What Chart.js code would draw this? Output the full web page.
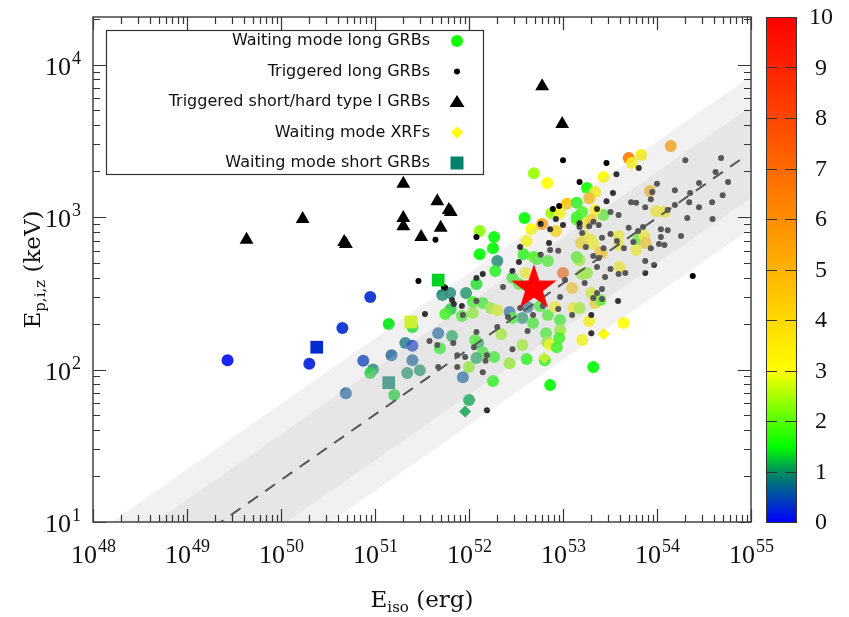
<!DOCTYPE html>
<html>
<head>
<meta charset="utf-8">
<script src="https://cdn.jsdelivr.net/npm/chart.js@4.4.1/dist/chart.umd.min.js"></script>
<style>
  html, body { margin: 0; background: #fff; }
  #c { display: block; }
</style>
</head>
<body>
<canvas id="c" width="849" height="617"></canvas>
<script>
// Eiso in erg, Ep,i,z in keV, z = redshift (colour scale)

// waiting mode long GRBs (coloured circles)
const wlE = [2.7e49, 2.0e50, 4.5e50, 8.9e50, 7.5e50, 4.9e50, 9.5e50, 8.9e50, 1.4e51, 1.6e51,
  1.5e51, 2.1e51, 2.5e51, 2.5e51, 3.0e51, 2.2e51, 2.5e51, 4.7e51, 6.6e51, 4.9e51,
  5.2e51, 6.3e51, 9.3e51, 6.4e51, 5.6e51, 8.4e51, 1.1e52, 1.4e52, 1.2e52, 1.7e52,
  2.0e52, 2.7e52, 3.7e52, 2.9e52, 4.8e52, 4.2e52, 6.9e52, 9.3e52, 5.7e52, 8.2e52,
  1.3e53, 1.5e53, 1.9e53, 1.6e53, 4.4e53, 2.2e53, 1.25e53, 2.2e52, 6.6e52, 9.3e52,
  1.25e52, 1.4e52, 1.16e52, 3.7e52, 6.8e52, 7.3e52, 8.6e52, 9.1e52, 1.2e52, 1.85e52,
  1.0e52, 8.6e51, 1.8e52, 2.7e52, 4.1e52, 6.4e52, 7.3e52, 1.0e52, 2.1e53, 2.0e52,
  5.3e52, 6.9e52, 1.9e52, 4.0e52, 1.0e53, 1.5e53, 1.8e53, 2.0e53, 2.9e52, 3.4e52,
  1.1e52, 3.9e52, 1.3e52, 1.85e52, 1.3e52, 4.9e52, 6.8e52, 1.8e53, 2.2e53, 1.9e53,
  1.1e53, 1.4e53, 7.5e52, 9.3e52, 1.6e53, 1.4e53, 6.0e52, 8.4e52, 4.6e52, 4.1e52,
  1.8e52, 3.8e52, 4.9e52, 2.7e53, 5.0e53, 6.8e53, 5.4e53, 1.4e54, 8.4e53, 2.7e53,
  2.2e53, 9.8e53, 1.2e54, 3.9e53, 6.3e53, 7.3e53, 3.9e53, 6.0e53, 7.6e53, 2.0e53,
  2.6e53, 1.7e53, 1.55e53, 2.1e53, 1.4e53, 2.5e53, 1.6e53, 4.0e53, 2.5e53, 1.8e53,
  2.0e53, 1.4e53];
const wlEp = [115, 109, 187, 299, 114, 70, 100, 95, 199, 68,
  124, 149, 143, 115, 99, 95, 190, 173, 166, 138,
  308, 317, 317, 249, 231, 224, 235, 273, 364, 253,
  245, 238, 218, 218, 202, 257, 228, 211, 261, 257,
  253, 253, 208, 156, 202, 273, 342, 171, 173, 181,
  149, 130, 156, 145, 151, 145, 140, 161, 119, 121,
  104, 89, 84, 110, 117, 115, 79, 63, 104, 515,
  530, 515, 442, 429, 429, 520, 429, 317, 398, 364,
  277, 985, 810, 740, 570, 1940, 1670, 1550, 1460, 1330,
  1220, 1240, 1060, 1060, 1080, 960, 900, 810, 830, 695,
  625, 570, 547, 1830, 2440, 2550, 2260, 2920, 1480, 1030,
  1110, 1090, 1080, 750, 710, 760, 655, 607, 675, 710,
  580, 750, 675, 665, 547, 590, 423, 470, 286, 910,
  960, 1000];
const wlZ = [0.1, 0.2, 0.3, 0.3, 0.4, 0.6, 0.9, 1.3, 1.4, 1.3,
  0.6, 0.8, 0.3, 0.6, 1.0, 1.0, 1.4, 0.6, 1.1, 1.5,
  0.9, 0.9, 1.0, 1.3, 1.7, 1.7, 2.2, 1.6, 1.4, 2.3,
  2.8, 0.6, 1.0, 1.6, 1.6, 0.7, 1.7, 1.6, 1.6, 3.0,
  3.1, 2.4, 3.1, 3.0, 3.0, 4.0, 4.5, 2.4, 1.7, 2.3,
  1.1, 1.6, 1.7, 2.4, 2.3, 3.0, 1.7, 1.7, 1.1, 1.6,
  2.2, 0.6, 1.6, 2.3, 1.6, 1.6, 1.5, 1.1, 1.5, 0.9,
  1.6, 1.7, 1.5, 3.0, 7.5, 2.4, 2.2, 2.8, 1.6, 1.7,
  1.7, 1.5, 2.3, 1.5, 1.5, 2.4, 3.0, 1.6, 3.2, 4.8,
  4.5, 1.6, 2.4, 3.0, 1.8, 1.8, 5.5, 4.0, 3.1, 3.0,
  1.5, 1.6, 1.8, 3.1, 6.5, 3.3, 3.1, 5.5, 5.0, 1.8,
  3.0, 3.3, 3.3, 3.0, 1.8, 3.0, 3.0, 3.0, 4.5, 3.2,
  4.0, 3.0, 4.0, 3.0, 1.8, 4.3, 2.3, 3.2, 1.9, 3.2,
  4.0, 1.7];

// triggered long GRBs (small black dots)
const tlE = [2.9e51, 4.4e51, 5.6e51, 1.2e52, 1.4e52, 1.2e52, 1.0e53, 1.5e53, 2.9e53, 3.7e53,
  6.4e53, 3.4e53, 9.1e52, 7.8e52, 8.4e52, 7.3e52, 5.8e52, 1.0e53, 1.5e53, 3.5e52,
  7.1e52, 5.8e52, 7.3e52, 8.9e52, 2.3e53, 2.9e53, 3.2e53, 1.5e53, 1.9e53, 2.4e53,
  1.6e53, 1.75e53, 2.1e53, 2.4e53, 1.7e53, 1.05e53, 2.3e53, 2.1e53, 2.3e52, 2.9e52,
  3.4e52, 6.6e51, 6.9e51, 8.4e51, 8.6e51, 3.4e51, 5.4e51, 1.2e52, 2.6e52, 4.8e52,
  6.1e52, 3.5e52, 8.9e52, 9.3e52, 1.25e53, 2.0e53, 2.0e53, 3.85e53, 2.6e53, 2.8e53,
  3.2e53, 3.9e53, 4.6e53, 7.5e53, 9.3e53, 7.5e53, 2.3e53, 2.6e53, 2.4e54, 4.2e52,
  2.0e52, 1.2e52, 2.9e52, 3.8e51, 4.6e51, 6.8e51, 7.5e51, 9.1e51, 1.5e52, 1.55e52,
  4.7e51, 7.5e51, 1.4e52, 1.55e52, 1.13e52,
  2.0e54, 4.8e54, 4.2e54, 5.7e54, 2.8e54, 1.0e54, 1.55e54, 2.25e54, 5.0e54, 8.9e53,
  5.3e53, 6.0e53, 8.6e53, 2.2e54, 2.8e54, 3.85e54, 1.55e54, 7.5e53, 1.3e54, 2.1e53,
  3.9e53, 2.1e54, 3.9e54, 5.0e53, 6.3e53, 7.1e53, 1.1e54, 1.3e54, 1.8e54, 3.2e53,
  2.6e53, 3.75e53, 5.6e53, 1.1e54, 1.2e54, 1.05e54, 8.6e53, 4.45e53, 2.7e53];
const tlEp = [380, 710, 342, 740, 423, 398, 2360, 1700, 2260, 1910,
  2100, 1440, 1180, 1130, 970, 830, 900, 885, 910, 635,
  675, 565, 607, 600, 1130, 1270, 1080, 860, 870, 885,
  785, 635, 555, 538, 369, 386, 470, 294, 347, 442,
  507, 286, 269, 261, 228, 231, 347, 281, 221, 228,
  261, 253, 249, 299, 228, 228, 173, 281, 337, 405,
  456, 423, 429, 515, 485, 429, 317, 290, 410, 179,
  190, 176, 136, 154, 145, 149, 124, 121, 114, 124,
  104, 104, 96, 54, 140,
  2360, 2440, 1970, 1700, 1670, 1650, 1500, 1440, 1390, 1460,
  1250, 1240, 1310, 1250, 1160, 1250, 1200, 1160, 1110, 930,
  1030, 985, 970, 850, 810, 860, 830, 820, 750, 775,
  730, 695, 685, 740, 655, 665, 625, 625, 625];

// triggered short/hard type I GRBs (triangles)
const shE = [4.3e49, 1.7e50, 4.9e50, 4.7e50, 2.0e51, 2.0e51, 2.0e51, 3.1e51, 4.6e51, 5.0e51, 6.4e51, 6.1e51, 6.0e52, 9.8e52];
const shEp = [710, 970, 665, 685, 1650, 985, 870, 740, 1270, 850, 1080, 1110, 7200, 4070];

// waiting mode XRFs (diamonds)
const xrfE = [9.1e51, 6.3e52, 2.7e53];
const xrfEp = [53, 119, 171];
const xrfZ = [1.1, 2.6, 3.0];

// waiting mode short GRBs (squares)
const wsE = [2.4e50, 1.4e51, 2.4e51, 4.7e51];
const wsEp = [140, 82, 205, 386];
const wsZ = [0.3, 0.9, 2.7, 1.3];

// highlighted burst (red star)
const starE = [4.9e52];
const starEp = [342];

// best fit (dashed) and the 1 sigma / 2 sigma regions, read at the axis ends
const fitE = [1e48, 7.6e54];
const fitEp = [2.6, 2365];
const bandE = [1e48, 1e55];
const outerHi = [8.2, 8410];
const outerLo = [0.82, 841];
const innerHi = [5.2, 5310];
const innerLo = [1.3, 1333];

// axes
const xDecades = [48, 49, 50, 51, 52, 53, 54, 55];
const yDecades = [1, 2, 3, 4];
const cbTicks = [0, 1, 2, 3, 4, 5, 6, 7, 8, 9, 10];

// colour map: z stop -> rgb
const cbStops = [0, 1, 1.5, 3, 6, 10];
const cbColors = [[0, 0, 255], [0, 144, 92], [0, 255, 0], [255, 255, 0], [255, 140, 0], [255, 0, 0]];

const serif = '"Liberation Serif", "DejaVu Serif", serif';
const titleSerif = '"DejaVu Serif", "Liberation Serif", serif';
const sans = '"DejaVu Sans", sans-serif';

function zColor(z, a) {
  let i = 0;
  while (i < cbStops.length - 2 && z > cbStops[i + 1]) i++;
  const t = Math.max(0, Math.min(1, (z - cbStops[i]) / (cbStops[i + 1] - cbStops[i])));
  const c = cbColors[i].map((v, k) => Math.round(v + (cbColors[i + 1][k] - v) * t));
  return `rgba(${c[0]},${c[1]},${c[2]},${a})`;
}
const pts = (xs, ys) => xs.map((x, i) => ({ x, y: ys[i] }));

// filled five point star for the highlighted burst
const starImg = document.createElement('canvas');
starImg.width = 52; starImg.height = 52;
(function () {
  const g = starImg.getContext('2d');
  g.fillStyle = '#ff0000';
  g.beginPath();
  for (let k = 0; k < 10; k++) {
    const r = k % 2 ? 9.4 : 24;
    const ang = -Math.PI / 2 + k * Math.PI / 5;
    g.lineTo(26 + r * Math.cos(ang), 26 + r * Math.sin(ang));
  }
  g.closePath();
  g.fill();
})();

const bandFill = 'rgba(200,200,200,0.25)';
const clear = 'rgba(0,0,0,0)';

function powLabel(ctx, px, py, exp, align) {
  ctx.font = `26px ${serif}`;
  const w1 = ctx.measureText('10').width;
  ctx.font = `18px ${serif}`;
  const w2 = ctx.measureText(String(exp)).width;
  const left = align === 'center' ? px - (w1 + w2) / 2 : px - w1 - w2;
  ctx.font = `26px ${serif}`;
  ctx.fillText('10', left, py);
  ctx.font = `18px ${serif}`;
  ctx.fillText(String(exp), left + w1 + 1, py - 11);
}

function subTitle(ctx, cx, cy, main, sub, rest) {
  ctx.font = `23px ${titleSerif}`;
  const w1 = ctx.measureText(main).width, w3 = ctx.measureText(rest).width;
  ctx.font = `15px ${titleSerif}`;
  const w2 = ctx.measureText(sub).width;
  const x0 = cx - (w1 + w2 + w3) / 2;
  ctx.font = `23px ${titleSerif}`;
  ctx.fillText(main, x0, cy);
  ctx.font = `15px ${titleSerif}`;
  ctx.fillText(sub, x0 + w1, cy + 5);
  ctx.font = `23px ${titleSerif}`;
  ctx.fillText(rest, x0 + w1 + w2, cy);
}

const decor = {
  id: 'decor',
  afterDraw(chart) {
    const { ctx, chartArea: a, scales: { x, y, cb } } = chart;
    ctx.save();

    // inward ticks on all four sides
    ctx.strokeStyle = '#333';
    ctx.lineWidth = 1.2;
    ctx.beginPath();
    xDecades.forEach(d => {
      for (let m = 1; m < 10; m++) {
        const v = m * Math.pow(10, d);
        if (v > x.max * 1.0001) break;
        const px = Math.round(x.getPixelForValue(v)) + 0.5;
        const len = m === 1 ? 13 : 7;
        ctx.moveTo(px, a.bottom); ctx.lineTo(px, a.bottom - len);
        ctx.moveTo(px, a.top); ctx.lineTo(px, a.top + len);
      }
    });
    yDecades.forEach(d => {
      for (let m = 1; m < 10; m++) {
        const v = m * Math.pow(10, d);
        if (v > y.max) break;
        const py = Math.round(y.getPixelForValue(v)) + 0.5;
        const len = m === 1 ? 13 : 7;
        ctx.moveTo(a.left, py); ctx.lineTo(a.left + len, py);
        ctx.moveTo(a.right, py); ctx.lineTo(a.right - len, py);
      }
    });
    ctx.stroke();

    // frame
    ctx.strokeStyle = '#444';
    ctx.lineWidth = 1.5;
    ctx.strokeRect(a.left, a.top, a.right - a.left, a.bottom - a.top);

    // tick labels
    ctx.fillStyle = '#111';
    ctx.textAlign = 'left';
    ctx.textBaseline = 'alphabetic';
    xDecades.forEach(d => powLabel(ctx, x.getPixelForValue(Math.pow(10, d)), a.bottom + 41, d, 'center'));
    yDecades.forEach(d => powLabel(ctx, a.left - 13, y.getPixelForValue(Math.pow(10, d)) + 10, d, 'right'));

    // axis titles
    subTitle(ctx, (a.left + a.right) / 2, 607, 'E', 'iso', ' (erg)');
    ctx.save();
    ctx.translate(40, (a.top + a.bottom) / 2);
    ctx.rotate(-Math.PI / 2);
    subTitle(ctx, 0, 0, 'E', 'p,i,z', ' (keV)');
    ctx.restore();

    // colour bar
    const bl = cb.left + 15, bw = 30;
    const bt = cb.getPixelForValue(10), bb = cb.getPixelForValue(0);
    const grad = ctx.createLinearGradient(0, bb, 0, bt);
    cbStops.forEach(s => grad.addColorStop(s / 10, zColor(s, 1)));
    ctx.fillStyle = grad;
    ctx.fillRect(bl, bt, bw, bb - bt);
    ctx.strokeStyle = '#333';
    ctx.lineWidth = 1;
    ctx.strokeRect(bl + 0.5, bt + 0.5, bw, bb - bt);
    ctx.beginPath();
    cbTicks.slice(1, -1).forEach(t => {
      const py = Math.round(cb.getPixelForValue(t)) + 0.5;
      ctx.moveTo(bl, py); ctx.lineTo(bl + 11, py);
      ctx.moveTo(bl + bw - 11, py); ctx.lineTo(bl + bw, py);
    });
    ctx.stroke();
    ctx.fillStyle = '#111';
    ctx.font = `24px ${serif}`;
    ctx.textAlign = 'center';
    ctx.textBaseline = 'middle';
    cbTicks.forEach(t => ctx.fillText(String(t), bl + bw + 25, cb.getPixelForValue(t) + 1));

    // legend
    const lx = a.left + 13, ly = a.top + 13, lw = 377, lh = 144;
    ctx.fillStyle = '#fff';
    ctx.fillRect(lx, ly, lw, lh);
    ctx.strokeStyle = '#333';
    ctx.lineWidth = 1.2;
    ctx.strokeRect(lx + 0.5, ly + 0.5, lw, lh);
    const rows = [
      ['Waiting mode long GRBs', 'circle', zColor(1.6, 1)],
      ['Triggered long GRBs', 'dot', '#000'],
      ['Triggered short/hard type I GRBs', 'triangle', '#000'],
      ['Waiting mode XRFs', 'diamond', zColor(3, 1)],
      ['Waiting mode short GRBs', 'square', zColor(0.9, 1)]
    ];
    ctx.font = `16px ${sans}`;
    ctx.textAlign = 'right';
    ctx.textBaseline = 'middle';
    rows.forEach((r, i) => {
      const cy = ly + 11 + i * 30.5;
      const mx = lx + 351;
      ctx.fillStyle = '#111';
      ctx.fillText(r[0], lx + 324, cy);
      ctx.fillStyle = r[2];
      ctx.beginPath();
      if (r[1] === 'circle') ctx.arc(mx, cy, 6, 0, Math.PI * 2);
      else if (r[1] === 'dot') ctx.arc(mx, cy, 3, 0, Math.PI * 2);
      else if (r[1] === 'triangle') { ctx.moveTo(mx, cy - 7); ctx.lineTo(mx + 7.5, cy + 5); ctx.lineTo(mx - 7.5, cy + 5); }
      else if (r[1] === 'diamond') { ctx.moveTo(mx, cy - 6); ctx.lineTo(mx + 6, cy); ctx.lineTo(mx, cy + 6); ctx.lineTo(mx - 6, cy); }
      else ctx.rect(mx - 6.5, cy - 6.5, 13, 13);
      ctx.closePath();
      ctx.fill();
    });

    ctx.restore();
  }
};

new Chart(document.getElementById('c').getContext('2d'), {
  type: 'scatter',
  data: {
    datasets: [
      { label: 'star', data: pts(starE, starEp), pointStyle: starImg, pointRadius: 24, order: 0 },
      { type: 'line', label: 'fit', data: pts(fitE, fitEp), borderColor: '#555', borderWidth: 2, borderDash: [12, 9], pointRadius: 0, fill: false, order: 1 },
      { type: 'line', label: 'outerHi', data: pts(bandE, outerHi), borderColor: clear, borderWidth: 0, pointRadius: 0, fill: false, order: 2 },
      { type: 'line', label: 'outerLo', data: pts(bandE, outerLo), borderColor: clear, borderWidth: 0, pointRadius: 0, fill: '-1', backgroundColor: bandFill, order: 2 },
      { type: 'line', label: 'innerHi', data: pts(bandE, innerHi), borderColor: clear, borderWidth: 0, pointRadius: 0, fill: false, order: 2 },
      { type: 'line', label: 'innerLo', data: pts(bandE, innerLo), borderColor: clear, borderWidth: 0, pointRadius: 0, fill: '-1', backgroundColor: bandFill, order: 2 },
      { label: 'Triggered short/hard type I GRBs', data: pts(shE, shEp), pointStyle: 'triangle', pointRadius: 8, backgroundColor: '#000', borderWidth: 0, order: 3 },
      { label: 'Waiting mode short GRBs', data: pts(wsE, wsEp), pointStyle: 'rect', pointRadius: 9, backgroundColor: wsZ.map(z => zColor(z, 1)), borderWidth: 0, order: 3 },
      { label: 'Waiting mode XRFs', data: pts(xrfE, xrfEp), pointStyle: 'rectRot', pointRadius: 6, backgroundColor: xrfZ.map(z => zColor(z, 1)), borderWidth: 0, order: 3 },
      { label: 'Triggered long GRBs', data: pts(tlE, tlEp), pointRadius: 3, backgroundColor: '#000', borderWidth: 0, order: 3 },
      { label: 'Waiting mode long GRBs', data: pts(wlE, wlEp), pointRadius: 6, backgroundColor: wlZ.map(z => zColor(z, 0.9)), borderWidth: 0, order: 4 }
    ]
  },
  options: {
    responsive: false,
    animation: false,
    events: [],
    layout: { autoPadding: false, padding: { top: 17, left: 0, right: 0, bottom: 0 } },
    plugins: { legend: { display: false }, tooltip: { enabled: false } },
    scales: {
      x: { type: 'logarithmic', min: 1e48, max: 1e55, position: 'bottom',
           ticks: { display: false }, grid: { display: false }, border: { display: false },
           afterFit: s => { s.height = 95; } },
      y: { type: 'logarithmic', min: 10, max: 2.05e4, position: 'left',
           ticks: { display: false }, grid: { display: false }, border: { display: false },
           afterFit: s => { s.width = 93; } },
      cb: { type: 'linear', min: 0, max: 10, position: 'right',
            ticks: { display: false }, grid: { display: false }, border: { display: false },
            afterFit: s => { s.width = 98; } }
    }
  },
  plugins: [decor]
});
</script>
</body>
</html>
